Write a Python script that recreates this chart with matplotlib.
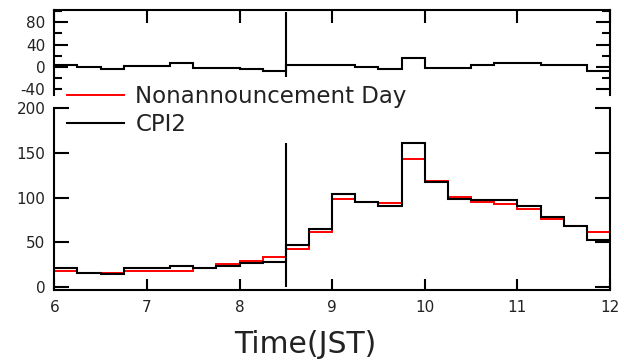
import numpy as np
import matplotlib
matplotlib.use("Agg")
import matplotlib.pyplot as plt
from matplotlib.lines import Line2D

plt.rcParams["axes.unicode_minus"] = False

# ---- data (15-minute bins, 6:00 to 12:00 JST) ----
bin_edges = np.linspace(6.0, 12.0, 25)
nonannouncement = [18, 16, 16, 18, 18, 18, 21, 26, 29, 34,
                   43, 62, 99, 95, 94, 143, 119, 101, 95, 93,
                   87, 76, 68, 62]
cpi2 = [21, 16, 14, 21, 21, 23.5, 21, 23.5, 26.5, 27.6,
        47, 64.6, 104, 95, 90.7, 161, 117, 99, 97.4, 97.4,
        90.7, 78, 68.3, 52.6]
difference = [3, -1.5, -5, 2, 2, 6, -2, -2, -5, -7.5,
              3, 3, 3, 0, -4.5, 16.5, -2, -2, 2.5, 7,
              7, 2.5, 2.5, -7]
announce_time = 8.5
top_vline = (-19, 98)
bot_vline = (0, 161)

x_ticks = [6, 7, 8, 9, 10, 11, 12]
top_major = [-40, 0, 40, 80]
top_minor = [-20, 20, 60, 100]
bot_ticks = [0, 50, 100, 150, 200]

W, H = 624, 360
fig = plt.figure(figsize=(W / 100, H / 100), dpi=100)
x0, x1 = 54.3, 610.0
ax_top = fig.add_axes([x0 / W, 1 - 95 / H, (x1 - x0) / W, (95 - 10) / H])
ax_bot = fig.add_axes([x0 / W, 1 - 290 / H, (x1 - x0) / W, (290 - 108.3) / H])

tc = "#222222"
slw = 1.5

# ---- top panel ----
ax_top.stairs(difference, bin_edges, color="black", lw=1.5, baseline=None)
ax_top.vlines(announce_time, *top_vline, color="black", lw=1.5)
ax_top.set_xlim(6, 12)
ax_top.set_ylim(-51.3, 102.5)
ax_top.spines["bottom"].set_visible(False)
for s in ax_top.spines.values():
    s.set_linewidth(slw)
ax_top.set_xticks(x_ticks)
ax_top.set_yticks(top_major)
ax_top.set_yticks(top_minor, minor=True)
ax_top.tick_params(axis="x", which="both", direction="in", bottom=False, top=True,
                   labelbottom=False, length=9.5, width=slw)
ax_top.tick_params(axis="y", which="major", direction="in", left=True, right=True,
                   length=10, width=slw, labelsize=11, labelcolor=tc, pad=6.5)
ax_top.tick_params(axis="y", which="minor", direction="in", left=True, right=True,
                   length=5.5, width=slw)
ax_top.yaxis.get_major_ticks()[0].tick1line.set_markersize(5.5)

# ---- bottom panel ----
ax_bot.stairs(nonannouncement, bin_edges, color="#ff0000", lw=1.4,
              baseline=None, label="Nonannouncement Day")
ax_bot.stairs(cpi2, bin_edges, color="black", lw=1.5,
              baseline=None, label="CPI2")
ax_bot.vlines(announce_time, *bot_vline, color="black", lw=1.5)
ax_bot.set_xlim(6, 12)
ax_bot.set_ylim(-3.4, 200)
ax_bot.spines["top"].set_visible(False)
for s in ax_bot.spines.values():
    s.set_linewidth(slw)
ax_bot.set_xticks(x_ticks)
ax_bot.set_yticks(bot_ticks)
ax_bot.tick_params(axis="x", direction="in", top=False, bottom=True, length=8,
                   width=slw, labelsize=11, labelcolor=tc, pad=7)
ax_bot.tick_params(axis="y", direction="in", left=True, right=True, length=10.5,
                   width=slw, labelsize=11, labelcolor=tc, pad=6.5)

ax_bot.set_xlabel("Time(JST)", fontsize=21.5, color=tc)
ax_bot.xaxis.set_label_coords((305 - x0) / (x1 - x0), -(353.3 - 290) / (290 - 108.3))
ax_bot.xaxis.label.set_verticalalignment("baseline")

h_red = Line2D([], [], color="#ff0000", lw=1.4)
h_blk = Line2D([], [], color="black", lw=1.5)
fig.legend([h_red, h_blk], ["Nonannouncement Day", "CPI2"], loc="upper left",
           bbox_to_anchor=(66.7 / W, 1 - 85 / H), frameon=False, fontsize=16.5,
           borderpad=0, borderaxespad=0, handlelength=2.5, handletextpad=0.5,
           labelspacing=0.2, labelcolor=tc)

fig.savefig("out.png", dpi=100)
